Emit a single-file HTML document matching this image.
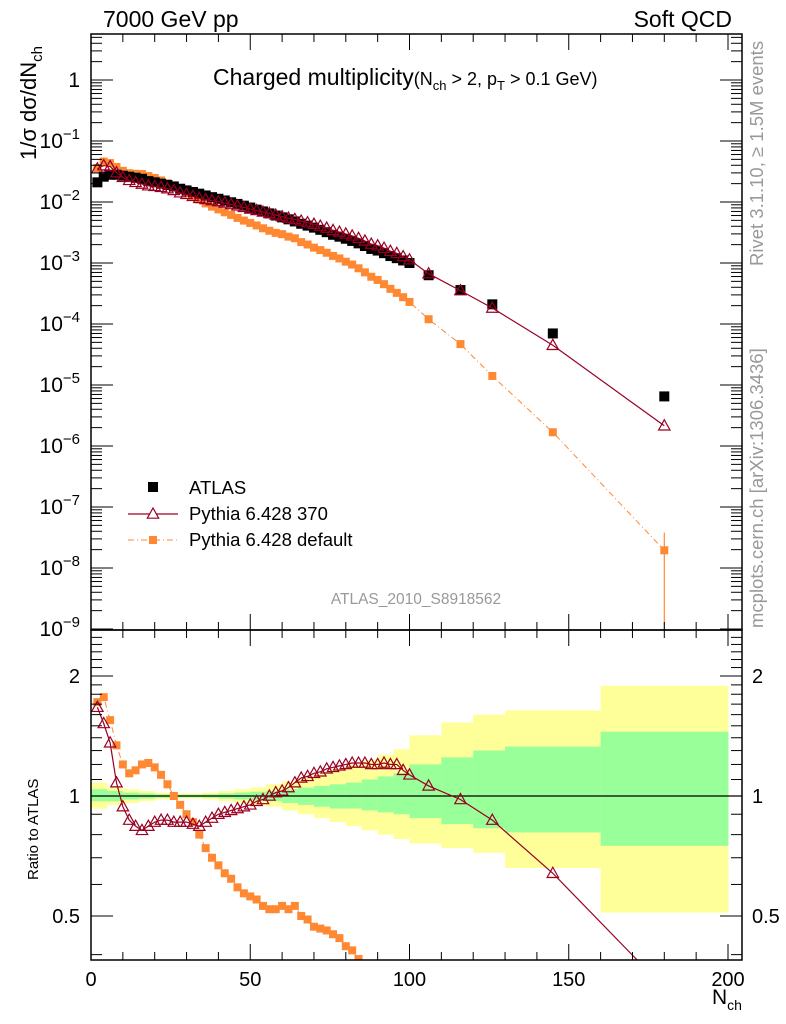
<!DOCTYPE html>
<html><head><meta charset="utf-8"><style>
html,body{margin:0;background:#fff;overflow:hidden;width:786px;height:1024px;}
svg{display:block;}
svg text{font-family:"Liberation Sans",sans-serif;}
</style></head><body>
<svg id="c" width="786" height="1024" style="position:absolute;left:0;top:0" xmlns="http://www.w3.org/2000/svg"></svg>
<script>
// ---- data ----
const nVals=[2,4,6,8,10,12,14,16,18,20,22,24,26,28,30,32,34,36,38,40,42,44,46,48,50,52,54,56,58,60,62,64,66,68,70,72,74,76,78,80,82,84,86,88,90,92,94,96,98,100,106,116,126,145,180];
const atlasVals=[0.021,0.026,0.028,0.028,0.027,0.026,0.025,0.024,0.022,0.021,0.020,0.019,0.018,0.0165,0.0155,0.0146,0.0137,0.0128,0.012,0.0113,0.0106,0.0099,0.0093,0.0087,0.0081,0.0075,0.007,0.0065,0.006,0.0056,0.0052,0.0048,0.0044,0.0041,0.0038,0.0035,0.0032,0.0029,0.0027,0.0025,0.0023,0.0021,0.0019,0.0017,0.0016,0.00145,0.0013,0.0012,0.0011,0.001,0.00063,0.00036,0.00021,0.00007,0.0000065];
const ratio370=[1.67,1.52,1.36,1.08,0.94,0.87,0.84,0.82,0.84,0.86,0.87,0.87,0.86,0.86,0.86,0.85,0.84,0.86,0.88,0.9,0.91,0.92,0.93,0.94,0.95,0.97,0.98,1.0,1.02,1.03,1.05,1.08,1.11,1.12,1.14,1.15,1.17,1.18,1.19,1.2,1.21,1.21,1.21,1.2,1.2,1.21,1.2,1.2,1.16,1.13,1.06,0.98,0.87,0.64,0.33];
const ratioDef=[1.72,1.77,1.55,1.34,1.2,1.14,1.16,1.2,1.21,1.18,1.13,1.07,1.0,0.95,0.9,0.86,0.8,0.74,0.7,0.67,0.64,0.62,0.59,0.57,0.56,0.55,0.53,0.52,0.52,0.53,0.52,0.53,0.5,0.49,0.47,0.465,0.46,0.45,0.44,0.42,0.41,0.39,0.37,0.35,0.33,0.31,0.29,0.27,0.25,0.23,0.19,0.13,0.067,0.024,0.003];
const bandEdges=[0,5,10,15,20,25,30,35,40,45,50,55,60,65,70,75,80,85,90,95,100,110,120,130,160,200];
const yellowHi=[1.08,1.05,1.04,1.03,1.02,1.015,1.015,1.02,1.03,1.04,1.05,1.07,1.09,1.11,1.14,1.17,1.2,1.23,1.27,1.31,1.42,1.53,1.6,1.64,1.89];
const yellowLo=[0.93,0.95,0.96,0.97,0.98,0.985,0.985,0.98,0.97,0.96,0.95,0.94,0.92,0.9,0.88,0.86,0.84,0.82,0.8,0.78,0.76,0.74,0.72,0.66,0.51];
const greenHi=[1.04,1.03,1.02,1.015,1.01,1.008,1.008,1.01,1.015,1.02,1.025,1.03,1.04,1.05,1.06,1.07,1.08,1.1,1.12,1.14,1.2,1.25,1.3,1.33,1.45];
const greenLo=[0.97,0.97,0.98,0.985,0.99,0.992,0.992,0.99,0.985,0.98,0.975,0.97,0.96,0.95,0.94,0.93,0.93,0.92,0.91,0.9,0.88,0.85,0.83,0.81,0.75];
const xTicks=[0,50,100,150,200];
const yDecades=[0,-1,-2,-3,-4,-5,-6,-7,-8,-9];
const ratioTicks=[2,1,0.5];

// ---- geometry ----
const L=91,R=742,T=34,MB=630,RB=960;
const NS="http://www.w3.org/2000/svg";
const svg=document.getElementById('c');
const X=n=>L+n*(728-91)/200;
const Y=v=>80-61*Math.log10(v);
const YR=r=>796-120*Math.log2(r);
function el(tag,at,parent){const e=document.createElementNS(NS,tag);for(const k in at)e.setAttribute(k,at[k]);(parent||svg).appendChild(e);return e;}
function txt(s,x,y,size,anchor,parent){const t=el('text',{x:x,y:y,'font-size':size,'text-anchor':anchor||'start'},parent);t.textContent=s;return t;}

const defs=el('defs',{});
const c1=el('clipPath',{id:'cm'},defs);el('rect',{x:L,y:T,width:R-L,height:MB-T},c1);
const c2=el('clipPath',{id:'cr'},defs);el('rect',{x:L,y:MB,width:R-L,height:RB-MB},c2);

// ---- ratio bands ----
const gR=el('g',{'clip-path':'url(#cr)'});


for(let i=0;i<yellowHi.length;i++){
  const x0=X(bandEdges[i]),x1=X(bandEdges[i+1]);
  const y=el('rect',{x:x0,y:YR(yellowHi[i]),width:x1-x0+0.5,height:YR(yellowLo[i])-YR(yellowHi[i]),fill:'#ffff99'},gR);
  
  
  const g=el('rect',{x:x0,y:YR(greenHi[i]),width:x1-x0+0.5,height:YR(greenLo[i])-YR(greenHi[i]),fill:'#99ff99'},gR);
  
  
}
el('line',{x1:L,x2:R,y1:YR(1),y2:YR(1),stroke:'#000','stroke-width':1.2},gR);

const C370='#990022',CDEF='#ff8833';
function tri(x,y,s,parent){return el('path',{d:`M${x},${y-s} L${x+s*0.95},${y+s*0.7} L${x-s*0.95},${y+s*0.7} Z`,fill:'none',stroke:C370,'stroke-width':1.2},parent);}

let p1='',p2='';
nVals.forEach((n,i)=>{p1+=(i?'L':'M')+X(n)+','+YR(ratio370[i]);p2+=(i?'L':'M')+X(n)+','+YR(ratioDef[i]);});
const rl2=el('path',{d:p2,fill:'none',stroke:CDEF,'stroke-width':1,'stroke-dasharray':'6,3,1,3'},gR);


nVals.forEach((n,i)=>{const m=el('rect',{x:X(n)-4,y:YR(ratioDef[i])-4,width:8,height:8,fill:CDEF},gR);

});
const rl1=el('path',{d:p1,fill:'none',stroke:C370,'stroke-width':1.2},gR);


nVals.forEach((n,i)=>{const m=tri(X(n),YR(ratio370[i]),6,gR);

});

// ---- main panel ----
const gM=el('g',{'clip-path':'url(#cm)'});


let m1='',m2='';
nVals.forEach((n,i)=>{m1+=(i?'L':'M')+X(n)+','+Y(atlasVals[i]*ratio370[i]);m2+=(i?'L':'M')+X(n)+','+Y(atlasVals[i]*ratioDef[i]);});
const ml2=el('path',{d:m2,fill:'none',stroke:CDEF,'stroke-width':1,'stroke-dasharray':'6,3,1,3'},gM);


const eb=el('line',{x1:X(180),x2:X(180),y1:Y(3.8e-8),y2:MB,stroke:CDEF,'stroke-width':1.2},gM);


nVals.forEach((n,i)=>{const m=el('rect',{x:X(n)-4,y:Y(atlasVals[i]*ratioDef[i])-4,width:8,height:8,fill:CDEF},gM);

});
nVals.forEach((n,i)=>{const m=el('rect',{x:X(n)-5,y:Y(atlasVals[i])-5,width:10,height:10,fill:'#000'},gM);

});
const ml1=el('path',{d:m1,fill:'none',stroke:C370,'stroke-width':1.2},gM);


nVals.forEach((n,i)=>{const m=tri(X(n),Y(atlasVals[i]*ratio370[i]),6,gM);

});

// ---- frames & ticks ----
const frame1=el('rect',{x:L,y:T,width:R-L,height:MB-T,fill:'none',stroke:'#000','stroke-width':1.5});


const frame2=el('rect',{x:L,y:MB,width:R-L,height:RB-MB,fill:'none',stroke:'#000','stroke-width':1.5});


const tk=el('g',{stroke:'#000','stroke-width':1});
for(let n=0;n<=205;n+=10){
  const big=n%50===0,h=big?16:8,x=X(n);if(x>R)continue;
  el('line',{x1:x,x2:x,y1:T,y2:T+h},tk);el('line',{x1:x,x2:x,y1:MB,y2:MB-h},tk);
  el('line',{x1:x,x2:x,y1:MB,y2:MB+h},tk);el('line',{x1:x,x2:x,y1:RB,y2:RB-h},tk);
}
for(let d=-10;d<=1;d++){for(let k=1;k<10;k++){const y=Y(k*Math.pow(10,d));if(y<T||y>MB)continue;const w=k===1?22:11;
el('line',{x1:L,x2:L+w,y1:y,y2:y},tk);el('line',{x1:R,x2:R-w,y1:y,y2:y},tk);}}
[0.4,0.5,0.6,0.7,0.8,0.9,1,1.1,1.2,1.3,1.4,1.5,1.6,1.7,1.8,1.9,2,2.1,2.2,2.3,2.4,2.5].forEach(r=>{const y=YR(r);if(y<MB||y>RB)return;const w=ratioTicks.includes(r)?22:11;
el('line',{x1:L,x2:L+w,y1:y,y2:y},tk);el('line',{x1:R,x2:R-w,y1:y,y2:y},tk);});

xTicks.forEach(v=>{const t=txt(String(v),X(v),986,20,'middle');

});
yDecades.forEach(d=>{let t;
  if(d===0){t=txt('1',80,Y(1)+7,21,'end');}
  else{t=el('text',{x:80,y:Y(Math.pow(10,d))+7,'font-size':21,'text-anchor':'end'});t.innerHTML='10<tspan font-size="15" dy="-9">\u2212'+(-d)+'</tspan>';}
  
  });
ratioTicks.forEach(r=>{const a=txt(String(r),80,YR(r)+7,20,'end');


const b=txt(String(r),752,YR(r)+7,20,'start');

});
</script>
<svg width="786" height="1024" style="position:absolute;left:0;top:0" xmlns="http://www.w3.org/2000/svg">
<text x="103" y="27" font-size="23" font-family="Liberation Sans,sans-serif">7000 GeV pp</text>
<text x="732" y="27" font-size="23" text-anchor="end" font-family="Liberation Sans,sans-serif">Soft QCD</text>
<text x="213" y="85" font-size="23" font-family="Liberation Sans,sans-serif">Charged multiplicity<tspan font-size="18">(N</tspan><tspan font-size="13" dy="5">ch</tspan><tspan font-size="18" dy="-5"> &gt; 2, p</tspan><tspan font-size="13" dy="5">T</tspan><tspan font-size="18" dy="-5"> &gt; 0.1 GeV)</tspan></text>
<text transform="translate(36,160) rotate(-90)" font-size="22" font-family="Liberation Sans,sans-serif">1/σ dσ/dN<tspan font-size="15" dy="6">ch</tspan></text>
<text transform="translate(38,880) rotate(-90)" font-size="15" font-family="Liberation Sans,sans-serif">Ratio to ATLAS</text>
<text x="712" y="1004" font-size="21" font-family="Liberation Sans,sans-serif">N<tspan font-size="14" dy="6">ch</tspan></text>
<text transform="translate(763,266) rotate(-90)" font-size="18.5" fill="#999" font-family="Liberation Sans,sans-serif">Rivet 3.1.10, ≥ 1.5M events</text>
<text transform="translate(763,628) rotate(-90)" font-size="18.5" fill="#999" font-family="Liberation Sans,sans-serif">mcplots.cern.ch [arXiv:1306.3436]</text>
<text x="416" y="604" font-size="15.5" fill="#999" text-anchor="middle" font-family="Liberation Sans,sans-serif">ATLAS_2010_S8918562</text>
<g font-family="Liberation Sans,sans-serif" font-size="18.5">
<rect x="148" y="482" width="10" height="10" fill="#000"/>
<text x="189" y="494">ATLAS</text>
<line x1="128" x2="178" y1="514" y2="514" stroke="#990022" stroke-width="1.2"/>
<path d="M153,508 L158.7,518.2 L147.3,518.2 Z" fill="#fff" stroke="#990022" stroke-width="1.2"/>
<text x="189" y="520">Pythia 6.428 370</text>
<line x1="128" x2="178" y1="540" y2="540" stroke="#ff8833" stroke-width="1" stroke-dasharray="6,3,1,3"/>
<rect x="149" y="536" width="8" height="8" fill="#ff8833"/>
<text x="189" y="546">Pythia 6.428 default</text>
</g>
</svg>
</body></html>
